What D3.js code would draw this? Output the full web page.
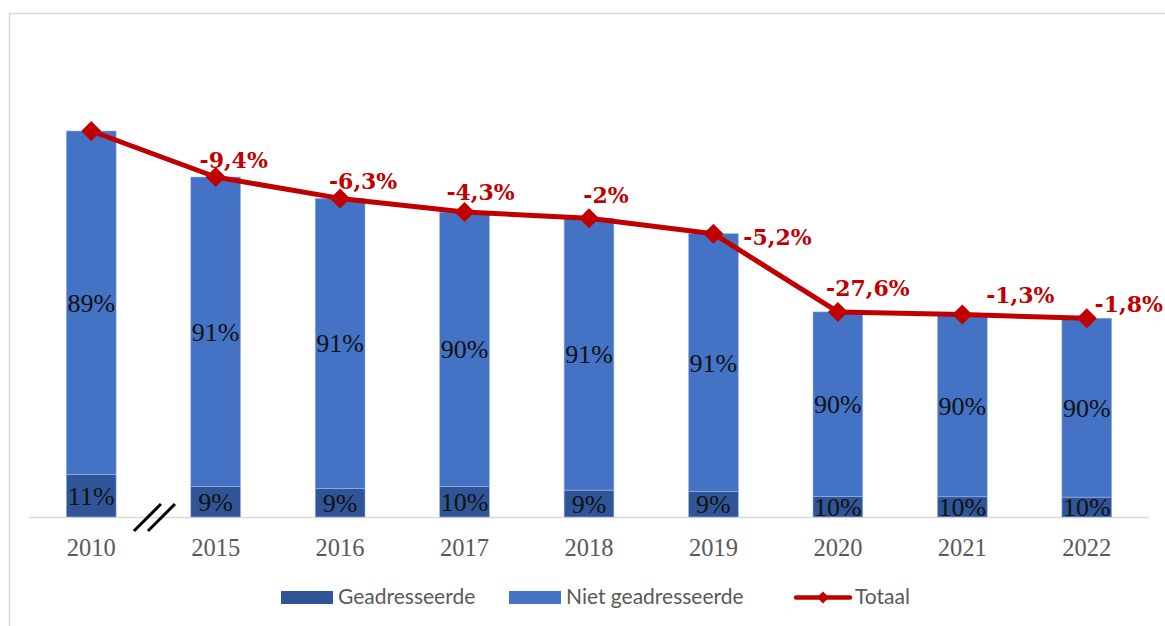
<!DOCTYPE html>
<html>
<head>
<meta charset="utf-8">
<script src="https://cdn.jsdelivr.net/npm/d3@7"></script>
<style>
  html, body { margin: 0; padding: 0; background: #fff; }
  svg { display: block; }
</style>
</head>
<body>
<svg id="chart" width="1165" height="626"></svg>
<script>
// Years on the category axis
const years = ["2010", "2015", "2016", "2017", "2018", "2019", "2020", "2021", "2022"];
// Total volume per year (index units)
const totals = [386, 340, 318.6, 304.9, 298.8, 283.3, 205.1, 202.4, 198.8];
// Share of addressed items (%)
const sharesAddressed = [11, 9, 9, 10, 9, 9, 10, 10, 10];
// Share of unaddressed items (%)
const sharesUnaddressed = [89, 91, 91, 90, 91, 91, 90, 90, 90];
// Year-on-year change of the total, as printed
const changeLabels = [null, "-9,4%", "-6,3%", "-4,3%", "-2%", "-5,2%", "-27,6%", "-1,3%", "-1,8%"];
// Hand-placed label offsets relative to each line point [dx, dy]
const changeOffsets = [null, [18, -9], [23, -9], [16, -12], [17, -15], [64, 11], [30, -16], [58, -12], [42, -6]];

const seriesNames = ["Geadresseerde", "Niet geadresseerde", "Totaal"];
const colAddressed = "#2f5597";
const colUnaddressed = "#4472c4";
const colTotal = "#c00000";

const svg = d3.select("#chart");

// chart frame
svg.append("rect")
  .attr("x", 9.5).attr("y", 13.5)
  .attr("width", 1200).attr("height", 700)
  .attr("fill", "#fff")
  .attr("stroke", "#d9d9d9").attr("stroke-width", 1.5);

const x = d3.scaleBand().domain(years).range([29, 1149]).paddingInner(0.6).paddingOuter(0.3);
const y = d3.scaleLinear().domain([0, 400]).range([517, 117]);

const rows = years.map((yr, i) => ({
  year: yr,
  total: totals[i],
  addressed: totals[i] * sharesAddressed[i] / 100,
  unaddressed: totals[i] * sharesUnaddressed[i] / 100,
  pA: sharesAddressed[i],
  pU: sharesUnaddressed[i]
}));

const stack = d3.stack().keys(["addressed", "unaddressed"]);
const layers = stack(rows);
const colors = { addressed: colAddressed, unaddressed: colUnaddressed };

// baseline
svg.append("line")
  .attr("x1", 29).attr("x2", 1149)
  .attr("y1", y(0) + 0.5).attr("y2", y(0) + 0.5)
  .attr("stroke", "#d9d9d9").attr("stroke-width", 1.5);

// stacked bars
const g = svg.append("g");
layers.forEach(layer => {
  g.selectAll(null).data(layer).join("rect")
    .attr("x", d => x(d.data.year))
    .attr("width", x.bandwidth())
    .attr("y", d => y(d[1]))
    .attr("height", d => y(d[0]) - y(d[1]))
    .attr("fill", colors[layer.key])
    .attr("stroke", "#9fb6e2").attr("stroke-width", 0.6);
});

// share labels inside the segments
layers.forEach(layer => {
  g.selectAll(null).data(layer).join("text")
    .attr("x", d => x(d.data.year) + x.bandwidth() / 2)
    .attr("y", d => (y(d[0]) + y(d[1])) / 2)
    .attr("dy", "0.35em")
    .attr("text-anchor", "middle")
    .attr("font-family", "'Liberation Serif', serif")
    .attr("font-size", 26)
    .attr("fill", "#111")
    .text(d => (layer.key === "addressed" ? d.data.pA : d.data.pU) + "%");
});

// x axis labels
const xAxis = d3.axisBottom(x).tickSize(0).tickPadding(0);
const ax = svg.append("g").attr("transform", `translate(0,${y(0)})`).call(xAxis);
ax.select(".domain").remove();
ax.selectAll("text")
  .attr("y", 39).attr("dy", 0)
  .attr("font-family", "'Liberation Serif', serif")
  .attr("font-size", 24.5)
  .attr("fill", "#595959");

// axis break mark between 2010 and 2015
const bx = (x("2010") + x.bandwidth() + x("2015")) / 2 + 1.5;
[-7, 7].forEach(o => {
  svg.append("line")
    .attr("x1", bx + o - 14).attr("y1", y(0) + 14)
    .attr("x2", bx + o + 13).attr("y2", y(0) - 13)
    .attr("stroke", "#000").attr("stroke-width", 3);
});

// total line with diamond markers
const cx = yr => x(yr) + x.bandwidth() / 2;
const line = d3.line().x(d => cx(d.year)).y(d => y(d.total));
svg.append("path")
  .datum(rows)
  .attr("d", line)
  .attr("fill", "none")
  .attr("stroke", colTotal)
  .attr("stroke-width", 5)
  .attr("stroke-linejoin", "round");

const diamond = r => `M0,${-r}L${r},0L0,${r}L${-r},0Z`;
svg.selectAll(null).data(rows).join("path")
  .attr("transform", d => `translate(${cx(d.year)},${y(d.total)})`)
  .attr("d", diamond(10))
  .attr("fill", colTotal);

// change labels
svg.selectAll(null).data(rows.filter((d, i) => changeLabels[i])).join("text")
  .attr("x", d => cx(d.year) + changeOffsets[years.indexOf(d.year)][0])
  .attr("y", d => y(d.total) + changeOffsets[years.indexOf(d.year)][1])
  .attr("text-anchor", "middle")
  .attr("font-family", "'DejaVu Serif', serif")
  .attr("font-weight", "bold")
  .attr("font-size", 22)
  .attr("fill", colTotal)
  .text(d => changeLabels[years.indexOf(d.year)]);

// legend
const legend = svg.append("g").attr("font-family", "Lato, 'Open Sans', sans-serif").attr("font-size", 21).attr("fill", "#595959");
const legendItems = [
  { name: seriesNames[0], x: 281, tx: 338, type: "box", color: colAddressed },
  { name: seriesNames[1], x: 509, tx: 566, type: "box", color: colUnaddressed },
  { name: seriesNames[2], x: 796, tx: 855, type: "line", color: colTotal }
];
legendItems.forEach(it => {
  if (it.type === "box") {
    legend.append("rect").attr("x", it.x).attr("y", 591).attr("width", 52).attr("height", 13).attr("fill", it.color);
  } else {
    legend.append("line").attr("x1", it.x).attr("x2", it.x + 54).attr("y1", 597.5).attr("y2", 597.5)
      .attr("stroke", it.color).attr("stroke-width", 4.5).attr("stroke-linecap", "round");
    legend.append("path").attr("transform", `translate(${it.x + 27},597.5)`).attr("d", diamond(6)).attr("fill", it.color);
  }
  legend.append("text").attr("x", it.tx).attr("y", 604).text(it.name);
});
</script>
</body>
</html>
